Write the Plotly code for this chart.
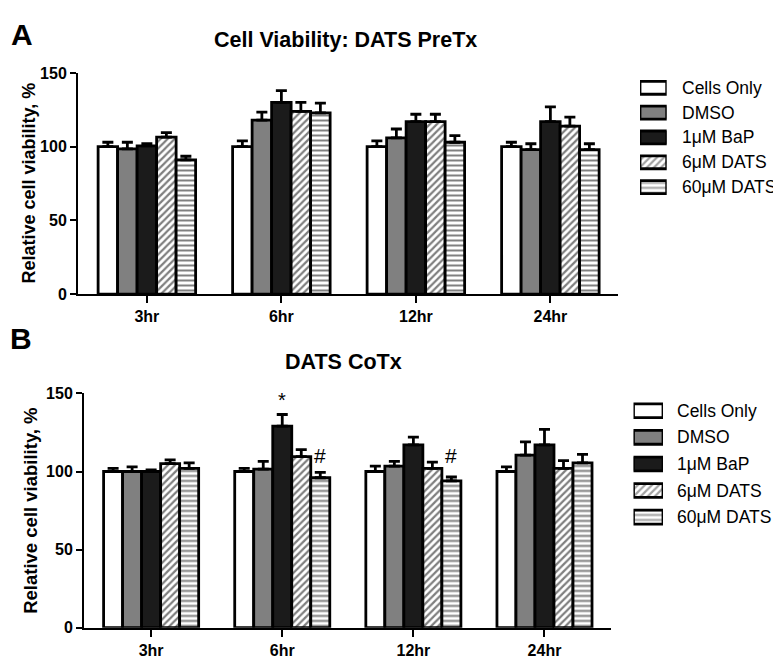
import plotly.graph_objects as go

# ---------------- data ----------------
timepoints = ["3hr", "6hr", "12hr", "24hr"]
series_names = ["Cells Only", "DMSO", "1μM BaP", "6μM DATS", "60μM DATS"]

# Panel A: DATS PreTx (mean, upper SEM)
pre_cells = [100, 100, 100, 100]
pre_cells_err = [3, 4, 4, 3]
pre_dmso = [98.5, 118, 106, 98]
pre_dmso_err = [4.5, 5.5, 6, 4]
pre_bap = [100.5, 130, 117, 117]
pre_bap_err = [1.5, 8, 5, 10]
pre_d6 = [106.5, 124, 117, 114]
pre_d6_err = [3, 6, 5, 6]
pre_d60 = [91, 123, 103, 98]
pre_d60_err = [2.5, 6.5, 4.5, 4]

# Panel B: DATS CoTx
co_cells = [100, 100, 100, 100]
co_cells_err = [2, 2, 3.5, 3]
co_dmso = [100, 101.5, 103.5, 110.5]
co_dmso_err = [3, 5, 3, 8.5]
co_bap = [100, 129, 117, 117]
co_bap_err = [1, 7.5, 5, 10]
co_d6 = [105, 109.5, 102, 102]
co_d6_err = [2.5, 4.5, 4, 5]
co_d60 = [102, 96, 94, 105.5]
co_d60_err = [3.5, 3.5, 2.5, 5.5]

y_ticks = [0, 50, 100, 150]

# significance markers (panel B)
star_marks = [("6hr", 2, 146)]              # (timepoint, series index, y)
hash_marks = [("6hr", 4, 110), ("12hr", 4, 110)]

# ---------------- style ----------------
FONT = "Liberation Sans, Arial, sans-serif"
fills = ["white", "#808080", "#1b1b1b", "white", "white"]
shapes = ["", "", "", "/", "-"]
pat_size = [6, 6, 6, 5, 5]
pat_sol = [0.3, 0.3, 0.3, 0.45, 0.4]
BARGAP = 0.275

# the page body has an 8px margin: size the figure to fill the rest of the window
OX, OY = 8, 8
W, H = 781 - OX, 662 - OY


def px(x):
    return (x - OX) / W


def py(y):
    return 1 - (y - OY) / H


fig = go.Figure()

panelA = [(pre_cells, pre_cells_err), (pre_dmso, pre_dmso_err), (pre_bap, pre_bap_err),
          (pre_d6, pre_d6_err), (pre_d60, pre_d60_err)]
panelB = [(co_cells, co_cells_err), (co_dmso, co_dmso_err), (co_bap, co_bap_err),
          (co_d6, co_d6_err), (co_d60, co_d60_err)]

for panel, xa, ya in [(panelA, "x", "y"), (panelB, "x2", "y2")]:
    for i, (vals, errs) in enumerate(panel):
        fig.add_trace(go.Bar(
            x=timepoints, y=vals, name=series_names[i], showlegend=False,
            xaxis=xa, yaxis=ya,
            marker=dict(color=fills[i], line=dict(color="black", width=2.8),
                        pattern=dict(shape=shapes[i], fgcolor="black", bgcolor="white",
                                     size=pat_size[i], solidity=pat_sol[i])),
            error_y=dict(type="data", array=errs, arrayminus=[0] * len(errs),
                         symmetric=False, color="black", thickness=2.8, width=5.5),
        ))

# legend swatches (one bar per series on hidden axes)
for xa, ya in [("x3", "y3"), ("x4", "y4")]:
    fig.add_trace(go.Bar(
        y=series_names, x=[1] * len(series_names), orientation="h", showlegend=False,
        xaxis=xa, yaxis=ya, width=0.52,
        marker=dict(color=fills, line=dict(color="black", width=2.8),
                    pattern=dict(shape=shapes, fgcolor="black", bgcolor="white",
                                 size=pat_size, solidity=pat_sol)),
    ))

axis_common_x = dict(type="category", range=[-0.512, 3.505], showline=True, linecolor="black",
                     linewidth=2, ticks="outside", ticklen=7, tickwidth=2, tickcolor="black",
                     showgrid=False, zeroline=False,
                     tickfont=dict(family=FONT, size=16, color="black", weight="bold"))
axis_common_y = dict(range=[0, 150], tickvals=y_ticks, showline=True, linecolor="black",
                     linewidth=2, ticks="outside", ticklen=6, tickwidth=2, tickcolor="black",
                     showgrid=False, zeroline=False,
                     tickfont=dict(family=FONT, size=16, color="black", weight="bold"))

leg_y_common = dict(type="category", range=[4.5, -0.5], visible=False, fixedrange=True)
leg_x_common = dict(range=[0, 1], visible=False, fixedrange=True)

rowA0, rowAstep = 81.7, 25.5
rowB0, rowBstep = 413.3, 27.3

fig.update_layout(
    width=W, height=H, margin=dict(l=0, r=0, t=0, b=0),
    paper_bgcolor="white", plot_bgcolor="white",
    barmode="group", bargap=BARGAP, bargroupgap=0,
    xaxis=dict(domain=[px(78), px(618.3)], anchor="y", **axis_common_x),
    yaxis=dict(domain=[py(293.5), py(66.5)], anchor="x", **axis_common_y),
    xaxis2=dict(domain=[px(84), px(610.7)], anchor="y2", **axis_common_x),
    yaxis2=dict(domain=[py(636), py(395.5)], anchor="x2", **axis_common_y),
    xaxis3=dict(domain=[px(640), px(666.7)], anchor="y3", **leg_x_common),
    yaxis3=dict(domain=[py(rowA0 + 4.5 * rowAstep), py(rowA0 - 0.5 * rowAstep)], anchor="x3",
                **leg_y_common),
    xaxis4=dict(domain=[px(633.5), px(663)], anchor="y4", **leg_x_common),
    yaxis4=dict(domain=[py(rowB0 + 4.5 * rowBstep), py(rowB0 - 0.5 * rowBstep)], anchor="x4",
                **leg_y_common),
    font=dict(family=FONT, color="black"),
)


def paper_text(text, x, y, size, angle=0):
    return dict(text=text, x=px(x), y=py(y), xref="paper", yref="paper",
                xanchor="center", yanchor="middle", showarrow=False, textangle=angle,
                font=dict(size=size, family=FONT, color="black"))


ann = []
# panel letters
ann.append(paper_text("<b>A</b>", 21.5, 27, 30))
ann.append(paper_text("<b>B</b>", 21, 339, 30))
# titles
ann.append(paper_text("<b>Cell Viability: DATS PreTx</b>", 345.5, 33, 21.5))
ann.append(paper_text("<b>DATS CoTx</b>", 343, 363, 21.5))
# y titles
ann.append(paper_text("<b>Relative cell viability, %</b>", 29, 180, 18, -90))
ann.append(paper_text("<b>Relative cell viability, %</b>", 31, 516, 18.5, -90))
# legend labels
for ya, xl in [("y3", 680), ("y4", 675)]:
    for name in series_names:
        ann.append(dict(text=name, x=px(xl), xanchor="left", y=name, yanchor="middle",
                        xref="paper", yref=ya, showarrow=False,
                        font=dict(size=17.5, family=FONT, color="black")))
# significance markers
bw = (1 - BARGAP) / len(series_names)
for tp, si, yv in star_marks:
    ann.append(dict(text="*", x=timepoints.index(tp) + (si - 2) * bw, y=yv, xref="x2", yref="y2",
                    xanchor="center", yanchor="middle", showarrow=False,
                    font=dict(size=20, family=FONT, color="black")))
for tp, si, yv in hash_marks:
    ann.append(dict(text="#", x=timepoints.index(tp) + (si - 2) * bw, y=yv, xref="x2", yref="y2",
                    xanchor="center", yanchor="middle", showarrow=False,
                    font=dict(size=21, family=FONT, color="black")))

fig.update_layout(annotations=ann)
fig.write_html("out.html")
